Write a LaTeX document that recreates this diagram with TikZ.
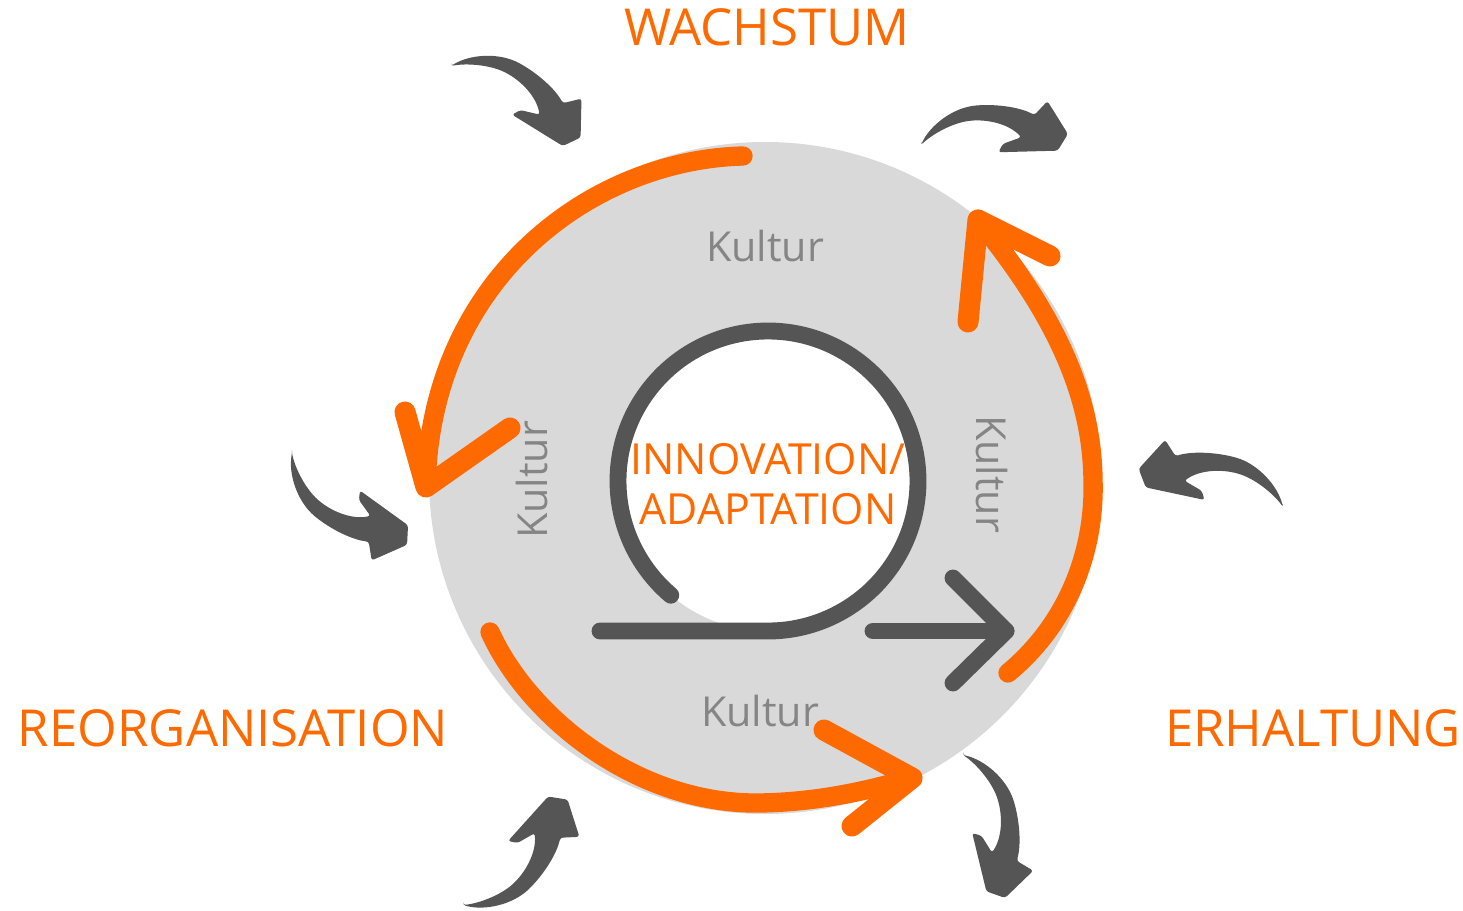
\documentclass[tikz,border=0pt]{standalone}
\usepackage{fontspec}
\setmainfont{Open Sans}
\usepackage{xcolor}
\usetikzlibrary{positioning, calc}

\definecolor{phaseorange}{HTML}{FF6A00}
\definecolor{ringgray}{HTML}{D9D9D9}
\definecolor{loopgray}{HTML}{555555}
\definecolor{culturegray}{HTML}{858585}

\tikzset{
  pics/swoosh/.style={code={
    \fill[loopgray, rounded corners=1.5pt]
      (0,0) .. controls (6,-14) and (22,-27) .. (40,-29)
      .. controls (55,-30) and (70,-28) .. (80,-23)
      -- (89,-33) -- (104,-10) -- (97,2) -- (55,4) -- (58,-2) -- (71,-7)
      .. controls (62,-16) and (48,-19) .. (35,-18)
      .. controls (22,-16) and (8,-8) .. cycle;
  }}
}

\begin{document}
\begin{tikzpicture}[x=0.2mm, y=-0.2mm,
    phase/.style={text=phaseorange, font=\fontsize{29}{34}\selectfont, anchor=base},
    culture/.style={text=culturegray, font=\fontsize{23.5}{28}\selectfont, anchor=base},
    phasearc/.style={draw=phaseorange, line width=11pt, line cap=round},
    phasebarb/.style={draw=phaseorange, line width=12pt, line cap=round, line join=round},
    loopline/.style={draw=loopgray, line width=9.6pt, line cap=round, line join=round}]
  \useasboundingbox (0,0) rectangle (1463,911);

  \coordinate (hub) at (765,478);
  \coordinate (loopc) at (768,481);
  \fill[ringgray] (hub) circle[radius=336];
  \fill[white] (loopc) circle[radius=150];

  % adaptive cycle
  \coordinate (growthstart) at (743,156);
  \coordinate (growthtip) at (426,487);
  \coordinate (growthbarbL) at (405,412);
  \coordinate (growthbarbR) at (510,428);
  \draw[phasearc] (growthstart) .. controls (590,160) and (430,280) .. (growthtip);
  \draw[phasebarb] (growthbarbL) -- (growthtip) -- (growthbarbR);

  \coordinate (releasestart) at (490,632);
  \coordinate (releasetip) at (912,778);
  \coordinate (releasebarbL) at (824,730);
  \coordinate (releasebarbR) at (852,826);
  \draw[phasearc] (releasestart) .. controls (530,720) and (640,805) .. (760,803)
    .. controls (820,802) and (870,790) .. (releasetip);
  \draw[phasebarb] (releasebarbL) -- (releasetip) -- (releasebarbR);

  \coordinate (keepstart) at (1008,673);
  \coordinate (keeptip) at (978,220);
  \coordinate (keepbarbL) at (968,322);
  \coordinate (keepbarbR) at (1050,256);
  \draw[phasearc] (keepstart) .. controls (1072,620) and (1095,545) .. (1093,480)
    .. controls (1092,400) and (1060,320) .. (keeptip);
  \draw[phasebarb] (keepbarbL) -- (keeptip) -- (keepbarbR);

  % loop and arrow
  \coordinate (loopend) at ($(loopc)+(130.4:150)$);
  \coordinate (loopstart) at (600,631);
  \draw[loopline] (loopend) arc[start angle=130.4, end angle=450, radius=150] -- (loopstart);
  \coordinate (adaptfrom) at (873,631);
  \coordinate (adapttip) at (1006,631);
  \coordinate (adapttop) at (953,578);
  \coordinate (adaptbottom) at (953,683);
  \draw[loopline] (adaptfrom) -- (adapttip);
  \draw[loopline] (adapttop) -- (adapttip) -- (adaptbottom);

  % outside influences
  \pic[rotate=-34.4, scale=1.417] at (451,66) {swoosh};
  \pic[rotate=-1.2, scale=1.41] at (921,145) {swoosh};
  \pic[rotate=170.7, scale=1.429, yscale=-1] at (1283,507) {swoosh};
  \pic[rotate=-79.1, scale=1.426] at (963,755) {swoosh};
  \pic[rotate=50.7, scale=1.421, yscale=-1] at (463,905) {swoosh};
  \pic[rotate=-33.1, scale=1.409, yscale=-1] at (292,453) {swoosh};

  \node[phase] (growth) at (767,46) {WACHSTUM};
  \node[phase] (conservation) at (1313,746) {ERHALTUNG};
  \node[phase] (reorganisation) at (233,746) {REORGANISATION};
  \node[phase, anchor=center, align=center, font=\fontsize{24.4}{28.7}\selectfont]
    (innovation) at (768,484) {INNOVATION/\\ADAPTATION};

  \node[culture] (culturetop) at (765,262) {Kultur};
  \node[culture] (culturebottom) at (760,726) {Kultur};
  \node[culture, rotate=90] (cultureleft) at (547,480) {Kultur};
  \node[culture, rotate=-90] (cultureright) at (976,474) {Kultur};
\end{tikzpicture}
\end{document}
